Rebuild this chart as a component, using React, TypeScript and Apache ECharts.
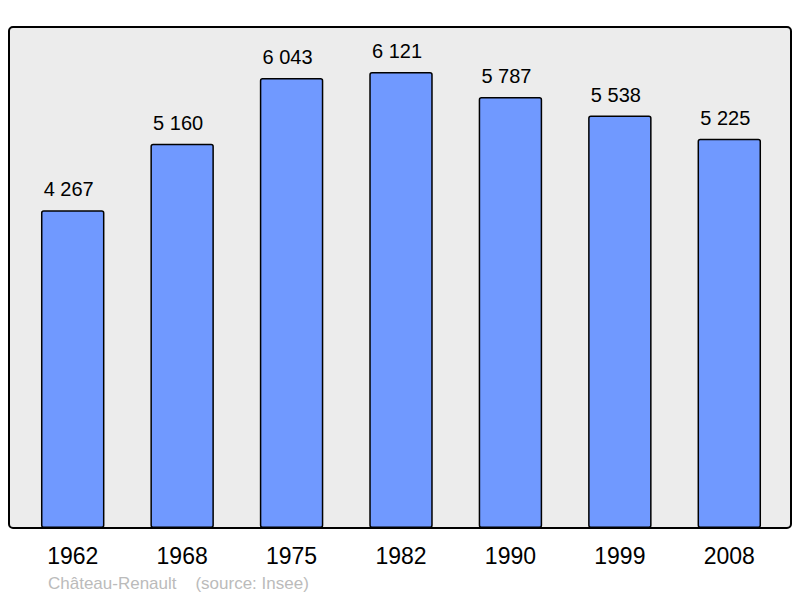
import * as echarts from 'echarts';
import { useEffect, useRef } from 'react';

const years = ['1962', '1968', '1975', '1982', '1990', '1999', '2008'];
const population = [4267, 5160, 6043, 6121, 5787, 5538, 5225];
const footer = 'Château-Renault    (source: Insee)';

const formatThousands = (v: number) =>
  String(v).replace(/\B(?=(\d{3})+(?!\d))/g, ' ');

function PopulationChart() {
  const chartRef = useRef(null);

  useEffect(() => {
    const myChart = echarts.init(chartRef.current, null, { renderer: 'svg' });

    const option = {
      animation: false,
      textStyle: {
        fontFamily: 'Liberation Sans, Arial, sans-serif',
      },
      grid: {
        left: 18,
        right: 16,
        top: 29,
        bottom: 70,
        containLabel: false,
      },
      graphic: [
        {
          type: 'rect',
          z: 0,
          shape: { x: 9, y: 27, width: 782, height: 501, r: 4 },
          style: { fill: '#ececec', stroke: '#000', lineWidth: 2 },
        },
        {
          type: 'text',
          z: 5,
          left: 48,
          top: 575,
          style: {
            text: footer,
            fill: '#bbbbbb',
            fontSize: 17,
            fontFamily: 'Liberation Sans, Arial, sans-serif',
          },
        },
      ],
      xAxis: {
        type: 'category',
        data: years,
        axisLine: { show: false },
        axisTick: { show: false },
        axisLabel: {
          color: '#000',
          fontSize: 23,
          margin: 16,
        },
      },
      yAxis: {
        type: 'value',
        min: 0,
        max: 6700,
        show: false,
        splitLine: { show: false },
      },
      series: [
        {
          type: 'bar',
          data: population,
          barWidth: '58%',
          itemStyle: {
            color: '#7099ff',
            borderColor: '#000',
            borderWidth: 1.5,
            borderRadius: 2,
          },
          label: {
            show: true,
            position: 'top',
            distance: 11,
            offset: [-4, 0],
            color: '#000',
            fontSize: 20,
            formatter: (p: any) => formatThousands(p.value),
          },
        },
      ],
    };

    myChart.setOption(option);

    return () => {
      myChart.dispose();
    };
  }, []);

  return <div ref={chartRef} style={{ width: '800px', height: '598px' }}></div>;
}

export default function App() {
  return (
    <div style={{ position: 'absolute', left: 0, top: 0 }}>
      <PopulationChart />
    </div>
  );
}
